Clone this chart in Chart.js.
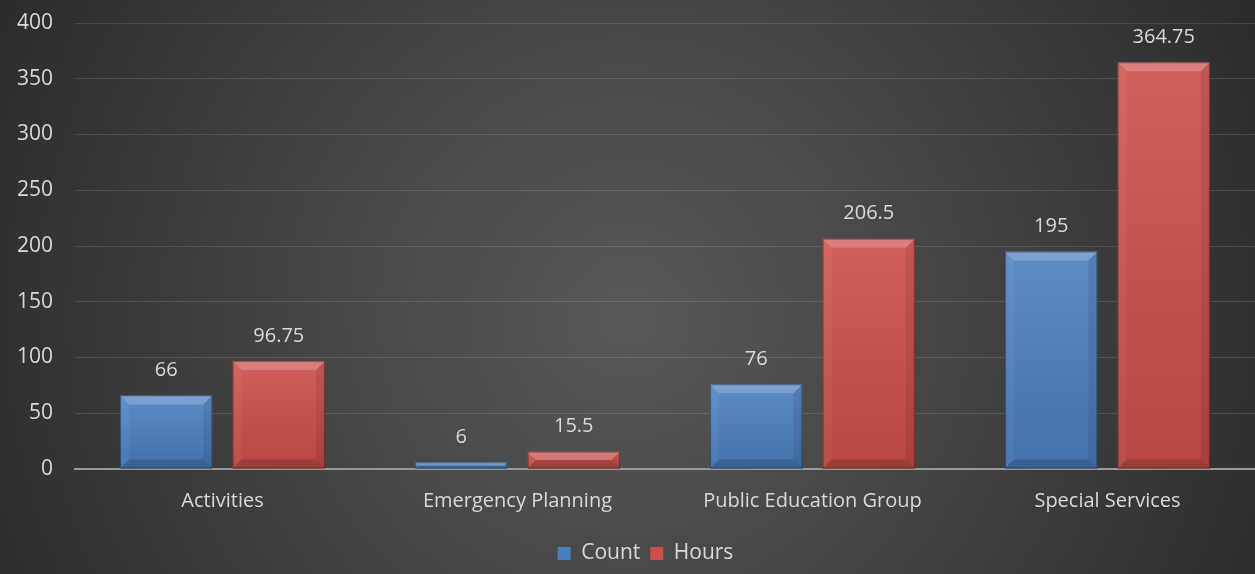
<!DOCTYPE html>
<html>
<head>
<meta charset="utf-8">
<script src="https://cdn.jsdelivr.net/npm/chart.js@4.4.1/dist/chart.umd.min.js"></script>
<style>
  html, body { margin: 0; padding: 0; background: #3a3a3a; }
  #wrap { width: 1255px; height: 574px; position: relative; }
</style>
</head>
<body>
<div id="wrap"><canvas id="hoursChart" width="1255" height="574"></canvas></div>
<script>
const categories = ['Activities', 'Emergency Planning', 'Public Education Group', 'Special Services'];
const countValues = [66, 6, 76, 195];
const hoursValues = [96.75, 15.5, 206.5, 364.75];
const yTicks = [0, 50, 100, 150, 200, 250, 300, 350, 400];

const textColor = '#d9d9d9';
const fontFamily = "'Open Sans', 'Noto Sans', sans-serif";

// dark radial backdrop behind everything
const backdrop = {
    id: 'backdrop',
    beforeDraw(chart) {
        const { ctx, width, height } = chart;
        const g = ctx.createRadialGradient(width / 2, height * 0.55, 0, width / 2, height * 0.55, width * 0.62);
        g.addColorStop(0, '#595959');
        g.addColorStop(1, '#272727');
        ctx.save();
        ctx.fillStyle = g;
        ctx.fillRect(0, 0, width, height);
        ctx.restore();
    }
};

// nudge the legend a little right of the plot centre
const legendShift = {
    id: 'legendShift',
    afterLayout(chart) {
        chart.legend.left += 18;
        chart.legend.right += 18;
    }
};

// bevel shading on top of each bar, then the value above it
const bevelAndLabels = {
    id: 'bevelAndLabels',
    afterDatasetsDraw(chart) {
        const ctx = chart.ctx;
        chart.data.datasets.forEach((ds, di) => {
            chart.getDatasetMeta(di).data.forEach((bar, i) => {
                const left = bar.x - bar.width / 2;
                const right = bar.x + bar.width / 2;
                const top = bar.y;
                const bottom = bar.base;
                const h = bottom - top;
                const b = Math.min(9, h / 2);
                ctx.save();
                const g = ctx.createLinearGradient(0, top, 0, bottom);
                g.addColorStop(0, 'rgba(255,255,255,0.10)');
                g.addColorStop(1, 'rgba(0,0,0,0.10)');
                ctx.fillStyle = g;
                ctx.fillRect(left, top, right - left, h);

                const face = (pts, color) => {
                    ctx.beginPath();
                    ctx.moveTo(pts[0][0], pts[0][1]);
                    pts.slice(1).forEach(p => ctx.lineTo(p[0], p[1]));
                    ctx.closePath();
                    ctx.fillStyle = color;
                    ctx.fill();
                };
                face([[left, top], [right, top], [right - b, top + b], [left + b, top + b]], 'rgba(255,255,255,0.20)');
                face([[left, top], [left + b, top + b], [left + b, bottom - b], [left, bottom]], 'rgba(255,255,255,0.05)');
                face([[right, top], [right, bottom], [right - b, bottom - b], [right - b, top + b]], 'rgba(0,0,0,0.08)');
                face([[left, bottom], [left + b, bottom - b], [right - b, bottom - b], [right, bottom]], 'rgba(0,0,0,0.14)');

                ctx.strokeStyle = 'rgba(0,0,0,0.35)';
                ctx.lineWidth = 1;
                ctx.strokeRect(left + 0.5, top + 0.5, right - left - 1, h - 1);

                ctx.fillStyle = textColor;
                ctx.font = '20px ' + fontFamily;
                ctx.textAlign = 'center';
                ctx.textBaseline = 'middle';
                ctx.fillText(String(ds.data[i]), bar.x, top - 25);
                ctx.restore();
            });
        });
    }
};

const ctx = document.getElementById('hoursChart').getContext('2d');
new Chart(ctx, {
    type: 'bar',
    data: {
        labels: categories,
        datasets: [
            { label: 'Count', data: countValues, backgroundColor: '#4a7ebf' },
            { label: 'Hours', data: hoursValues, backgroundColor: '#cc4d49' }
        ]
    },
    options: {
        responsive: false,
        animation: false,
        devicePixelRatio: 1,
        categoryPercentage: 0.763,
        barPercentage: 0.82,
        layout: { padding: { top: 23, left: 0, right: 0, bottom: 0 } },
        scales: {
            x: {
                grid: { display: false, drawTicks: false },
                border: { color: '#9a9a9a', width: 2 },
                ticks: { color: textColor, font: { family: fontFamily, size: 20 }, padding: 20 },
                afterFit(scale) {
                    scale.height = 64;
                    scale.paddingLeft = 0;
                    scale.paddingRight = 0;
                }
            },
            y: {
                min: 0,
                max: 400,
                afterBuildTicks(scale) { scale.ticks = yTicks.map(v => ({ value: v })); },
                grid: { color: 'rgba(255,255,255,0.13)', lineWidth: 1, drawTicks: false },
                border: { display: false },
                ticks: { color: textColor, font: { family: fontFamily, size: 21 }, padding: 22 },
                afterFit(scale) {
                    scale.width = 75;
                    scale.paddingTop = 0;
                    scale.paddingBottom = 0;
                }
            }
        },
        plugins: {
            legend: {
                position: 'bottom',
                labels: {
                    color: textColor,
                    font: { family: fontFamily, size: 21 },
                    boxWidth: 13,
                    boxHeight: 13,
                    padding: 10
                }
            },
            tooltip: { enabled: false }
        }
    },
    plugins: [backdrop, legendShift, bevelAndLabels]
});
</script>
</body>
</html>
